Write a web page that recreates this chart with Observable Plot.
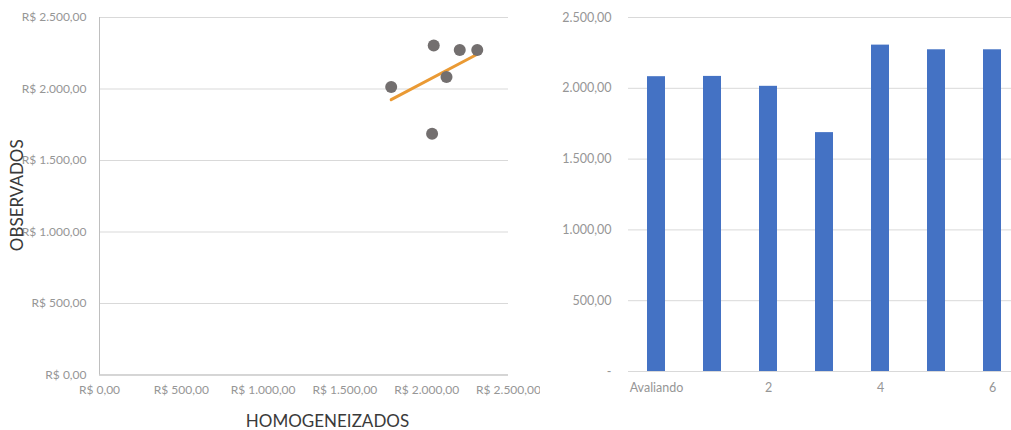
<!DOCTYPE html>
<html><head><meta charset="utf-8">
<script src="https://cdn.jsdelivr.net/npm/d3@7"></script>
<script src="https://cdn.jsdelivr.net/npm/@observablehq/plot@0.6"></script>
<style>
body{margin:0;background:#fff;}
#wrap{position:relative;width:1011px;height:430px;overflow:hidden;font-family:Lato,sans-serif;}
#left{position:absolute;left:0;top:0;width:540px;height:430px;}
#right{position:absolute;left:540px;top:0;width:471px;height:430px;}
</style></head><body><div id="wrap"><div id="left"></div><div id="right"></div></div>
<script>
// Data
const categories = ["Avaliando", "1", "2", "3", "4", "5", "6"];
const barValues = [2082, 2084, 2014, 1687, 2305, 2272, 2272];
const homogenized = [2121, 1783, 2033, 2043, 2202, 2309];
const observed = [2084, 2014, 1687, 2305, 2272, 2272];
const valueTicks = [0, 500, 1000, 1500, 2000, 2500];
const barTickLabels = ["Avaliando", "2", "4", "6"];
const xTitle = "HOMOGENEIZADOS";
const yTitle = "OBSERVADOS";

const loc = d3.formatLocale({decimal: ",", thousands: ".", grouping: [3], currency: ["R$ ", ""]});
const brl = loc.format("$,.2f");
const num = loc.format(",.2f");

const scatterData = homogenized.map((h, i) => ({h, o: observed[i]}));
const barData = categories.map((c, i) => ({c, v: barValues[i]}));

const tickColor = "#969696";

const left = Plot.plot({
  width: 540, height: 430,
  marginLeft: 99, marginRight: 32, marginTop: 17, marginBottom: 55.5,
  style: {fontFamily: "Lato, sans-serif", fontSize: "12px", background: "transparent", color: tickColor},
  x: {domain: [0, 2500]},
  y: {domain: [0, 2500]},
  marks: [
    Plot.gridY(valueTicks, {stroke: "#d9d9d9", strokeOpacity: 1}),
    Plot.ruleX([0], {stroke: "#bfbfbf"}),
    Plot.ruleY([0], {stroke: "#bfbfbf"}),
    Plot.axisY(valueTicks, {tickSize: 0, tickPadding: 13, tickFormat: brl, label: null, fill: tickColor}),
    Plot.axisX(valueTicks, {tickSize: 0, tickPadding: 10, tickFormat: brl, label: null, fill: tickColor}),
    Plot.linearRegressionY(scatterData, {x: "h", y: "o", stroke: "#EA9A34", strokeWidth: 3, ci: 0}),
    Plot.dot(scatterData, {x: "h", y: "o", r: 6, fill: "#736F6F", stroke: null}),
    Plot.text([xTitle], {frameAnchor: "bottom", lineAnchor: "middle", textAnchor: "middle", dx: 23.5, dy: 46.5, fontSize: 17, fill: "#3a3a3a"}),
    Plot.text([yTitle], {frameAnchor: "left", lineAnchor: "middle", textAnchor: "middle", rotate: -90, dx: -81.5, dy: -1, fontSize: 17, fill: "#3a3a3a"})
  ]
});
document.getElementById("left").append(left);

const right = Plot.plot({
  width: 471, height: 430,
  marginLeft: 88, marginRight: 0, marginTop: 17, marginBottom: 59,
  style: {fontFamily: "Lato, sans-serif", fontSize: "12.5px", background: "transparent", color: tickColor},
  x: {domain: categories, range: [88, 480], paddingInner: 0.68, paddingOuter: 0.34, align: 0.5},
  y: {domain: [0, 2500]},
  marks: [
    Plot.gridY(valueTicks, {stroke: "#d9d9d9", strokeOpacity: 1}),
    Plot.barY(barData, {x: "c", y: "v", fill: "#4472C4"}),
    Plot.ruleY([0], {stroke: "#d9d9d9"}),
    Plot.axisY(valueTicks, {tickSize: 0, tickPadding: 17, tickFormat: d => d === 0 ? "-" : num(d), label: null, fill: tickColor}),
    Plot.axisX(barTickLabels, {tickSize: 0, tickPadding: 12, label: null, fill: tickColor})
  ]
});
document.getElementById("right").append(right);
</script></body></html>
